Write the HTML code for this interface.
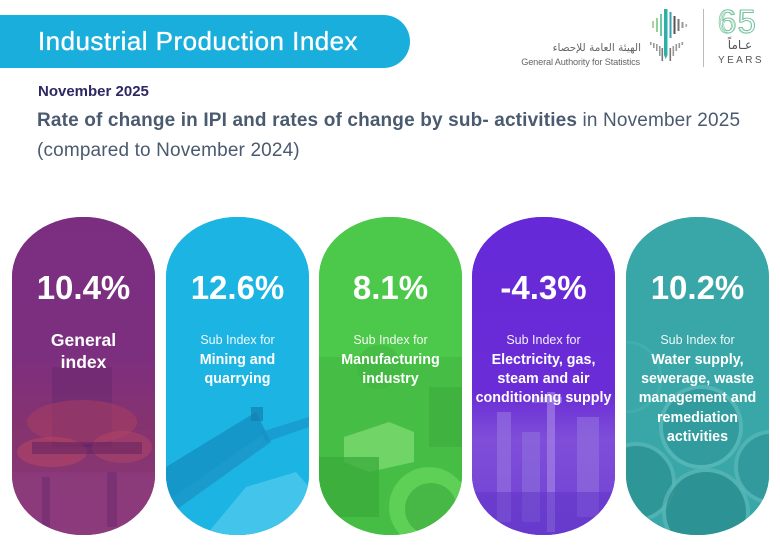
<!DOCTYPE html>
<html><head><meta charset="utf-8">
<style>
html,body{margin:0;padding:0;background:#fff;}
body{width:780px;height:548px;position:relative;overflow:hidden;font-family:"Liberation Sans",sans-serif;}
.bar{position:absolute;left:0;top:15px;width:410px;height:53px;background:#1aaedd;border-radius:0 27px 27px 0;}
.bar span{position:absolute;left:38px;top:0;line-height:53px;color:#fff;font-size:26px;letter-spacing:0.45px;white-space:nowrap;-webkit-text-stroke:0.35px #fff;}
.month{position:absolute;left:38px;top:84px;font-size:15px;line-height:15px;font-weight:bold;color:#2d2764;white-space:nowrap;}
.sub{position:absolute;left:37px;top:106px;font-size:19px;line-height:29.5px;color:#4a5a6f;white-space:nowrap;letter-spacing:0.15px;}
.sub b{font-weight:bold;}
.card{position:absolute;top:217px;width:143px;height:318px;border-radius:71px/60px;overflow:hidden;}
.card svg.bg{position:absolute;left:0;top:0;}
.pct{position:absolute;left:0;width:100%;top:54px;text-align:center;color:#fff;font-weight:bold;font-size:33px;line-height:33px;white-space:nowrap;}
.txt{position:absolute;left:0;width:100%;top:113px;text-align:center;color:#fff;white-space:nowrap;}
.txt .s{font-size:12.5px;line-height:21px;color:rgba(255,255,255,0.92);}
.txt .b{font-size:14.3px;line-height:19.2px;font-weight:bold;}
.txt .g{font-size:17.5px;line-height:22px;font-weight:bold;}
</style></head><body>

<div class="bar"><span>Industrial Production Index</span></div>
<div class="month">November 2025</div>
<div class="sub"><b>Rate of change in IPI and rates of change by sub- activities</b> in November 2025<br>(compared to November 2024)</div>

<!-- logo -->
<div style="position:absolute;left:505px;top:42px;width:136px;text-align:right;font-family:'DejaVu Sans',sans-serif;font-size:10.5px;line-height:13px;color:#666;direction:rtl;white-space:nowrap;">الهيئة العامة للإحصاء</div>
<div style="position:absolute;left:515px;top:56px;width:125px;text-align:right;font-size:9.2px;line-height:12px;color:#666;letter-spacing:-0.15px;white-space:nowrap;">General Authority for Statistics</div>
<svg style="position:absolute;left:648px;top:6px" width="46" height="64" viewBox="0 0 46 64">
  <g fill="#2fb0a6">
    <rect x="16" y="3" width="3.5" height="46"/>
    <polygon points="16,49 19.5,49 17.75,53"/>
    <rect x="12" y="8" width="2" height="22" fill="#6ccaa0"/>
    <rect x="8" y="12" width="2" height="14" fill="#8fd39a"/>
    <rect x="4" y="15" width="2" height="7" fill="#a8d88e"/>
    <rect x="21.5" y="6" width="2" height="26" fill="#3aa0b8"/>
    <rect x="25.5" y="10" width="2" height="18" fill="#555"/>
    <rect x="29.5" y="13" width="2" height="12" fill="#777"/>
    <rect x="33.5" y="16" width="2" height="6" fill="#999"/>
    <rect x="37.5" y="18" width="1.6" height="3" fill="#aaa"/>
  </g>
  <g fill="#999">
    <rect x="2" y="36" width="1.6" height="3"/>
    <rect x="5" y="37" width="1.6" height="5"/>
    <rect x="8" y="38" width="1.6" height="7"/>
    <rect x="11" y="40" width="1.6" height="10"/>
    <rect x="13.5" y="42" width="1.6" height="13" fill="#777"/>
    <rect x="21.5" y="42" width="1.6" height="13" fill="#777"/>
    <rect x="24.5" y="40" width="1.6" height="10"/>
    <rect x="27.5" y="38" width="1.6" height="7"/>
    <rect x="30.5" y="37" width="1.6" height="5"/>
    <rect x="33.5" y="36" width="1.6" height="3"/>
  </g>
</svg>
<div style="position:absolute;left:703px;top:9px;width:1px;height:58px;background:#bbb;"></div>
<svg style="position:absolute;left:714px;top:4px" width="58" height="34" viewBox="0 0 58 34">
  <text x="3.5" y="29" font-family="Liberation Sans, sans-serif" font-size="33" fill="none" stroke="#8fcf9c" stroke-width="0.9" letter-spacing="1.5">65</text>
  <text x="5" y="28.5" font-family="Liberation Sans, sans-serif" font-size="32" fill="none" stroke="#5fb8a8" stroke-width="0.5" letter-spacing="1.5">65</text>
</svg>
<div style="position:absolute;left:718px;top:38px;width:44px;text-align:center;font-family:'DejaVu Sans',sans-serif;font-size:12px;line-height:14px;color:#555;direction:rtl;">عـاماً</div>
<div style="position:absolute;left:717px;top:55px;width:48px;text-align:center;font-size:10px;line-height:11px;color:#555;letter-spacing:2.4px;">YEARS</div>

<!-- Card 1 -->
<div class="card" style="left:12px;background:#7b2d80;">
  <svg class="bg" width="143" height="318" viewBox="0 0 143 318">
    <defs>
      <linearGradient id="g1" x1="0" y1="0" x2="0" y2="1">
        <stop offset="0" stop-color="#7b2d80"/>
        <stop offset="0.45" stop-color="#7d2f7f"/>
        <stop offset="0.65" stop-color="#85336f"/>
        <stop offset="1" stop-color="#8a3a78"/>
      </linearGradient>
    </defs>
    <rect width="143" height="318" fill="url(#g1)"/>
    <rect x="40" y="150" width="60" height="80" fill="#6a2a70" opacity="0.6"/>
    <ellipse cx="70" cy="205" rx="55" ry="22" fill="#a83e62" opacity="0.55"/>
    <ellipse cx="40" cy="235" rx="35" ry="15" fill="#c04a60" opacity="0.45"/>
    <ellipse cx="110" cy="230" rx="30" ry="16" fill="#b84864" opacity="0.45"/>
    <rect x="20" y="225" width="110" height="12" fill="#5c2060" opacity="0.5"/>
    <rect x="0" y="255" width="143" height="63" fill="#8e3c7e" opacity="0.6"/>
    <rect x="30" y="260" width="8" height="50" fill="#6a2a70" opacity="0.5"/>
    <rect x="95" y="255" width="10" height="55" fill="#6a2a70" opacity="0.5"/>
  </svg>
  <div class="pct">10.4%</div>
  <div class="txt" style="top:112px;"><div class="g">General</div><div class="g">index</div></div>
</div>

<!-- Card 2 -->
<div class="card" style="left:166px;background:#1cb4e2;">
  <svg class="bg" width="143" height="318" viewBox="0 0 143 318">
    <rect width="143" height="318" fill="#1cb4e2"/>
    <polygon points="0,250 90,195 100,215 0,285" fill="#1590c4" opacity="0.8"/>
    <polygon points="0,285 100,215 105,225 0,300" fill="#1a7fb5" opacity="0.5"/>
    <polygon points="40,318 80,270 130,255 143,270 143,318" fill="#4ec8ec" opacity="0.8"/>
    <polygon points="95,215 143,200 143,210 100,225" fill="#1590c4" opacity="0.6"/>
    <rect x="85" y="190" width="12" height="14" fill="#137fb0" opacity="0.7"/>
  </svg>
  <div class="pct">12.6%</div>
  <div class="txt"><div class="s">Sub Index for</div><div class="b">Mining and</div><div class="b">quarrying</div></div>
</div>

<!-- Card 3 -->
<div class="card" style="left:319px;background:#4dc94a;">
  <svg class="bg" width="143" height="318" viewBox="0 0 143 318">
    <rect width="143" height="318" fill="#4cc84a"/>
    <rect x="0" y="140" width="143" height="178" fill="#45bc44" opacity="0.8"/>
    <polygon points="25,220 70,205 95,215 95,245 50,255 25,245" fill="#79d86c" opacity="0.85"/>
    <rect x="0" y="240" width="60" height="60" fill="#38a83a" opacity="0.7"/>
    <circle cx="110" cy="290" r="40" fill="#5fd257" opacity="0.9"/>
    <circle cx="112" cy="292" r="26" fill="#3fae3e" opacity="0.7"/>
    <rect x="110" y="170" width="33" height="60" fill="#3aa63c" opacity="0.5"/>
    <circle cx="60" cy="150" r="22" fill="#3fae3f" opacity="0.4"/>
  </svg>
  <div class="pct">8.1%</div>
  <div class="txt"><div class="s">Sub Index for</div><div class="b">Manufacturing</div><div class="b">industry</div></div>
</div>

<!-- Card 4 -->
<div class="card" style="left:472px;background:#6a2ad6;">
  <svg class="bg" width="143" height="318" viewBox="0 0 143 318">
    <defs>
      <linearGradient id="g4" x1="0" y1="0" x2="0" y2="1">
        <stop offset="0" stop-color="#6629d8"/>
        <stop offset="0.55" stop-color="#6a2cd6"/>
        <stop offset="0.7" stop-color="#7f4ed8"/>
        <stop offset="1" stop-color="#7040d4"/>
      </linearGradient>
    </defs>
    <rect width="143" height="318" fill="url(#g4)"/>
    <rect x="25" y="195" width="14" height="110" fill="#9a78e0" opacity="0.55"/>
    <rect x="50" y="215" width="18" height="90" fill="#9072dc" opacity="0.55"/>
    <rect x="75" y="175" width="8" height="140" fill="#a88ae6" opacity="0.6"/>
    <rect x="105" y="200" width="22" height="100" fill="#9575de" opacity="0.55"/>
    <rect x="0" y="275" width="143" height="43" fill="#5e34c6" opacity="0.5"/>
    <rect x="60" y="180" width="30" height="6" fill="#a88ae6" opacity="0.5"/>
  </svg>
  <div class="pct">-4.3%</div>
  <div class="txt"><div class="s">Sub Index for</div><div class="b">Electricity, gas,</div><div class="b">steam and air</div><div class="b">conditioning supply</div></div>
</div>

<!-- Card 5 -->
<div class="card" style="left:626px;background:#38a5a6;">
  <svg class="bg" width="143" height="318" viewBox="0 0 143 318">
    <rect width="143" height="318" fill="#39a6a7"/>
    <circle cx="0" cy="160" r="35" fill="#3da9aa" stroke="#49b2b2" stroke-width="3" opacity="0.6"/>
    <circle cx="75" cy="210" r="40" fill="#2f9799" stroke="#5fbcbc" stroke-width="4" opacity="0.7"/>
    <circle cx="10" cy="265" r="38" fill="#2c9092" stroke="#5ab8b8" stroke-width="4" opacity="0.7"/>
    <circle cx="80" cy="295" r="42" fill="#2a8b8d" stroke="#58b6b6" stroke-width="4" opacity="0.75"/>
    <circle cx="145" cy="250" r="35" fill="#2f9698" stroke="#5ab8b8" stroke-width="4" opacity="0.7"/>
  </svg>
  <div class="pct">10.2%</div>
  <div class="txt"><div class="s">Sub Index for</div><div class="b">Water supply,</div><div class="b">sewerage, waste</div><div class="b">management and</div><div class="b">remediation</div><div class="b">activities</div></div>
</div>

</body></html>
